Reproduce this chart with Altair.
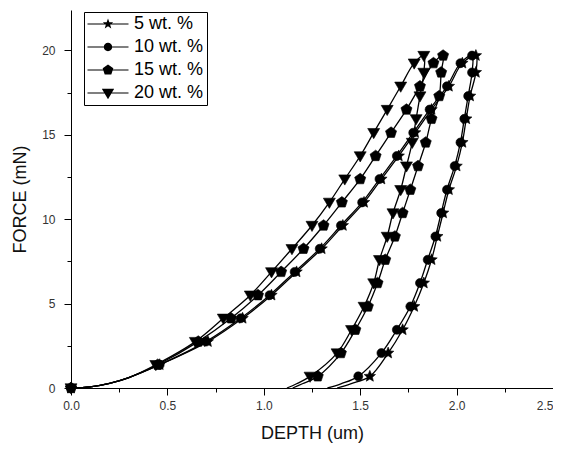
import math
import altair as alt
import pandas as pd

series_names = ["5 wt. %", "10 wt. %", "15 wt. %", "20 wt. %"]

# force levels (mN) of the marked points
load_force = [0, 1.38, 2.75, 4.13, 5.5, 6.88, 8.25, 9.63, 11.0, 12.38, 13.75, 15.13, 16.5, 17.88, 19.25, 19.7]
unload_force = [18.7, 17.3, 15.95, 14.55, 13.15, 11.75, 10.37, 8.98, 7.6, 6.22, 4.83, 3.45, 2.07, 0.69]

# unmarked points of the curves (start of loading, end of unloading)
start_depth = [0.1, 0.2, 0.3]
start_force = [0.07, 0.28, 0.62]
tail_force = [0.25, 0.0]

# depths (um)
star_load = [0, 0.46, 0.71, 0.89, 1.04, 1.17, 1.30, 1.41, 1.52, 1.61, 1.70, 1.785, 1.87, 1.96, 2.03, 2.10]
star_unload = [2.10, 2.07, 2.05, 2.03, 2.00, 1.96, 1.93, 1.90, 1.87, 1.83, 1.78, 1.72, 1.645, 1.55]
star_tail = [1.45, 1.38]

circle_load = [0, 0.46, 0.70, 0.88, 1.03, 1.16, 1.29, 1.40, 1.51, 1.60, 1.69, 1.775, 1.86, 1.95, 2.02, 2.08]
circle_unload = [2.08, 2.06, 2.04, 2.02, 1.99, 1.95, 1.92, 1.89, 1.85, 1.81, 1.76, 1.69, 1.61, 1.49]
circle_tail = [1.40, 1.33]

pent_load = [0, 0.45, 0.66, 0.83, 0.97, 1.09, 1.206, 1.31, 1.405, 1.50, 1.58, 1.66, 1.74, 1.81, 1.88, 1.93]
pent_unload = [1.92, 1.91, 1.87, 1.84, 1.80, 1.76, 1.72, 1.68, 1.63, 1.59, 1.54, 1.475, 1.40, 1.28]
pent_tail = [1.20, 1.15]

tri_load = [0, 0.44, 0.645, 0.79, 0.93, 1.04, 1.146, 1.25, 1.34, 1.42, 1.50, 1.57, 1.64, 1.71, 1.78, 1.83]
tri_unload = [1.83, 1.81, 1.79, 1.77, 1.74, 1.71, 1.67, 1.64, 1.60, 1.57, 1.52, 1.455, 1.38, 1.24]
tri_tail = [1.17, 1.12]

x_major = [0, 0.5, 1.0, 1.5, 2.0]
x_last = [2.5]
x_minor = [0.25, 0.75, 1.25, 1.75, 2.25]
y_major = [0, 5, 10, 15, 20]
y_minor = [2.5, 7.5, 12.5, 17.5]

curves = {
    "5 wt. %": (star_load, star_unload, star_tail),
    "10 wt. %": (circle_load, circle_unload, circle_tail),
    "15 wt. %": (pent_load, pent_unload, pent_tail),
    "20 wt. %": (tri_load, tri_unload, tri_tail),
}

rows = []
for name in series_names:
    ld, ud, td = curves[name]
    pts = [(ld[0], load_force[0], True)]
    pts += [(d, f, False) for d, f in zip(start_depth, start_force)]
    pts += [(d, f, True) for d, f in zip(ld[1:], load_force[1:])]
    pts += [(d, f, True) for d, f in zip(ud, unload_force)]
    pts += [(d, f, False) for d, f in zip(td, tail_force)]
    for i, (d, f, m) in enumerate(pts):
        rows.append({"series": name, "idx": i, "depth": d, "force": f, "marker": m})
df = pd.DataFrame(rows)


# ---- marker shapes (style only); all paths are clockwise on screen ----
def poly(points):
    return "M" + "L".join(f"{x:.3f},{y:.3f}" for x, y in points) + "Z"


def star_pts(r_out, r_in):
    pts = []
    for k in range(10):
        a = -math.pi / 2 + k * math.pi / 5
        r = r_out if k % 2 == 0 else r_in
        pts.append((r * math.cos(a), r * math.sin(a)))
    return pts


def pent_pts(r):
    return [(r * math.cos(-math.pi / 2 + k * 2 * math.pi / 5), r * math.sin(-math.pi / 2 + k * 2 * math.pi / 5)) for k in range(5)]


def tri_pts(s):
    return [(-s, -0.7 * s), (s, -0.7 * s), (0, s)]


def circ(r):
    return f"M{-r:.3f},0A{r:.3f},{r:.3f} 0 1,1 {r:.3f},0A{r:.3f},{r:.3f} 0 1,1 {-r:.3f},0Z"


# data markers: size 144 -> 1 unit = 6 px
marker_shapes = [
    poly(star_pts(1.0, 0.45)),
    circ(0.75),
    poly(pent_pts(0.97)),
    poly(tri_pts(1.0)),
]

# legend symbols: 41 px wide box -> 1 unit = 20.5 px, with a line through
u = 1 / 20.5
bar = poly([(-1, -0.6 * u), (1, -0.6 * u), (1, 0.6 * u), (-1, 0.6 * u)])
legend_shapes = [
    bar + poly(star_pts(5.5 * u, 2.3 * u)),
    bar + circ(4.2 * u),
    bar + poly(pent_pts(5.6 * u)),
    bar + poly(tri_pts(6.2 * u)),
]

FONT = "Liberation Sans"
x_scale = alt.Scale(domain=[0, 2.5], nice=False, zero=False)
y_scale = alt.Scale(domain=[0, 22.4], nice=False, zero=False)

x_major_axis = alt.Axis(
    orient="bottom", values=x_major, format=".1f", tickSize=7,
    title="DEPTH (um)",
    titleFont=FONT, titleFontSize=18, titleFontWeight="normal", titleColor="#111",
    titleX=241, titleY=45, titleBaseline="middle", titleAlign="center",
    labelFont=FONT, labelFontSize=12, labelColor="#333", labelPadding=5,
    labelOverlap=False, labelFlush=False,
    grid=False, domainColor="black", tickColor="black",
)
y_major_axis = alt.Axis(
    orient="left", values=y_major, format="d", tickSize=7,
    title="FORCE (mN)",
    titleFont=FONT, titleFontSize=18, titleFontWeight="normal", titleColor="#111",
    titleX=-51, titleY=189, titleBaseline="middle", titleAlign="center", titleAngle=270,
    labelFont=FONT, labelFontSize=12, labelColor="#333", labelPadding=9,
    labelOverlap=False, labelFlush=False,
    grid=False, domainColor="black", tickColor="black",
)
x_minor_axis = alt.Axis(
    orient="bottom", values=x_minor, tickSize=4, labels=False, domain=False,
    title=None, grid=False, tickColor="black",
)
y_minor_axis = alt.Axis(
    orient="left", values=y_minor, tickSize=4, labels=False, domain=False,
    title=None, grid=False, tickColor="black",
)
# last major x tick: label kept inside the page
x_last_axis = alt.Axis(
    orient="bottom", values=x_last, format=".1f", tickSize=7,
    labelFont=FONT, labelFontSize=12, labelColor="#333", labelPadding=5,
    labelAlign="right", labelOverlap=False, labelFlush=False, domain=False,
    title=None, grid=False, tickColor="black",
)

base = alt.Chart(df)

lines = base.mark_line(interpolate="catmull-rom", color="black", strokeWidth=1.3).encode(
    x=alt.X("depth:Q", scale=x_scale, axis=x_major_axis),
    y=alt.Y("force:Q", scale=y_scale, axis=y_major_axis),
    detail="series:N",
    order="idx:Q",
)

points = base.transform_filter("datum.marker").mark_point(
    filled=True, fill="black", stroke="black", strokeWidth=0.6, opacity=1, size=144
).encode(
    x=alt.X("depth:Q", scale=x_scale, axis=x_minor_axis),
    y=alt.Y("force:Q", scale=y_scale, axis=y_minor_axis),
    shape=alt.Shape("series:N", scale=alt.Scale(domain=series_names, range=marker_shapes), legend=None),
)

legend_layer = base.transform_filter("false").mark_point(
    filled=True, fill="black", stroke="black", strokeWidth=0.6, opacity=1, size=1681
).encode(
    x=alt.X("depth:Q", scale=x_scale, axis=x_last_axis),
    y=alt.Y("force:Q", scale=y_scale, axis=None),
    shape=alt.Shape(
        "series:N",
        scale=alt.Scale(domain=series_names, range=legend_shapes),
        legend=alt.Legend(
            orient="none", legendX=13, legendY=2, title=None,
            symbolSize=1681, symbolFillColor="black", symbolStrokeColor="black",
            symbolStrokeWidth=0.6, symbolOpacity=1, clipHeight=18,
            labelFont=FONT, labelFontSize=18, labelColor="black", labelOffset=5,
            labelLimit=300, rowPadding=5, padding=3,
            strokeColor="black", fillColor="white",
        ),
    ),
)

chart = (
    alt.layer(lines, points, legend_layer)
    .resolve_scale(shape="independent")
    .resolve_axis(x="independent", y="independent")
    .properties(
        width=482, height=378,
        autosize=alt.AutoSizeParams(type="none"),
        padding={"left": 63, "top": 2, "right": 0, "bottom": 60},
        background="white",
    )
    .configure_view(stroke=None)
)

chart.save("out.html", embed_options={"renderer": "svg", "actions": False})
